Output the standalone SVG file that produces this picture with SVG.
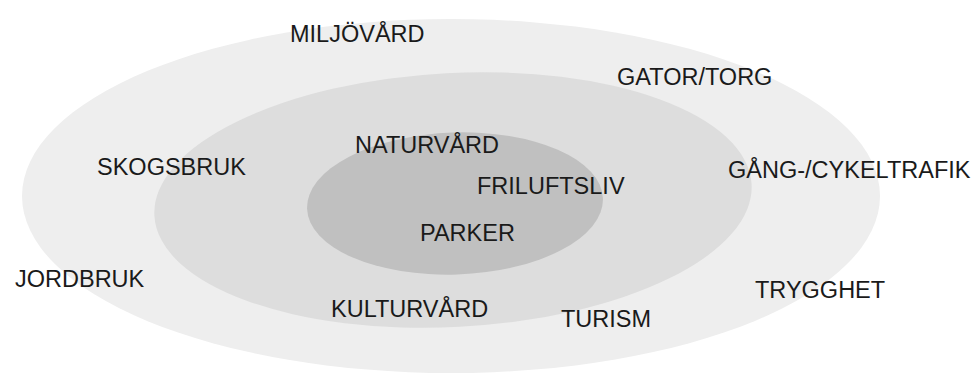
<svg xmlns="http://www.w3.org/2000/svg" width="979" height="377" viewBox="0 0 979 377">
<style>
.t{font-family:"Liberation Sans",Arial,Helvetica,sans-serif;font-size:23.5px;fill:#1a1a1a}
</style>
<rect width="979" height="377" fill="#ffffff"/>
<g id="outer"><ellipse cx="451" cy="196" rx="429" ry="177" fill="#eeeeee"/></g>
<g id="middle"><ellipse cx="453" cy="200" rx="299" ry="127" fill="#dddddd" transform="rotate(-3 453 200)"/></g>
<g id="inner"><ellipse cx="455" cy="203.5" rx="148" ry="71" fill="#c0c0c0" transform="rotate(-2 455 203.5)"/></g>
<g id="connectors"/>
<g id="labels">
<text class="t" x="290" y="42">MILJÖVÅRD</text>
<text class="t" x="617" y="85">GATOR/TORG</text>
<text class="t" x="97" y="175">SKOGSBRUK</text>
<text class="t" x="728" y="178">GÅNG-/CYKELTRAFIK</text>
<text class="t" x="355" y="153">NATURVÅRD</text>
<text class="t" x="477" y="194">FRILUFTSLIV</text>
<text class="t" x="420" y="241">PARKER</text>
<text class="t" x="15" y="287">JORDBRUK</text>
<text class="t" x="755" y="298">TRYGGHET</text>
<text class="t" x="331" y="317">KULTURVÅRD</text>
<text class="t" x="561" y="327">TURISM</text>
</g>
</svg>
